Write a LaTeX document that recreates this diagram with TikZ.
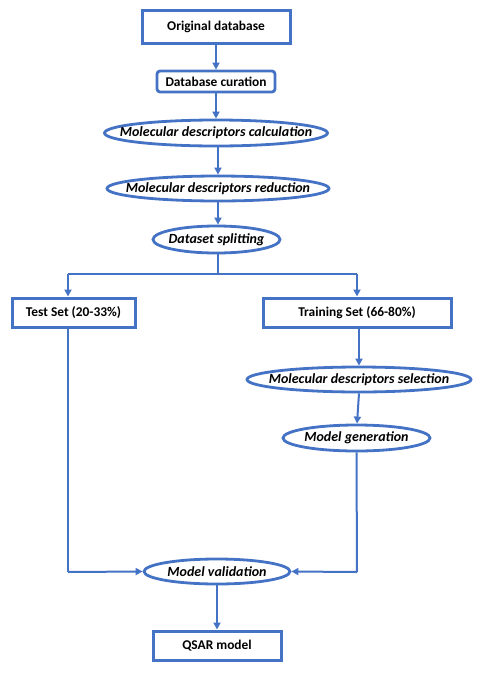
\documentclass[tikz,border=0pt]{standalone}
\usepackage{fontspec}
\setmainfont{Carlito}
\usetikzlibrary{shapes.geometric,arrows.meta}
\definecolor{oblue}{HTML}{4472C4}
\begin{document}
\begin{tikzpicture}[x=1pt,y=-1pt,
  every node/.style={font=\fontsize{13.4}{15}\selectfont\bfseries, text=black, inner sep=0pt},
  sqbox/.style={draw=oblue, line width=3pt, rectangle},
  rbox/.style={draw=oblue, line width=2.8pt, rectangle, rounded corners=3pt},
  ell/.style 2 args={draw=oblue, line width=2.8pt, ellipse, inner sep=0pt,
     label={[font=\fontsize{14}{15}\selectfont\bfseries\itshape, text=black]center:#1}},
  conn/.style={draw=oblue, line width=2pt, -{Triangle[length=7pt,width=7pt]}},
  plain/.style={draw=oblue, line width=2pt}
]
\useasboundingbox (0,0) rectangle (484,681);
\node[sqbox, minimum width=148pt, minimum height=33pt] (orig) at (216,26.5) {Original database};
\node[rbox, minimum width=118pt, minimum height=21pt] (cur) at (216,81.5) {Database curation};
\node[ell={Molecular descriptors calculation}{}, minimum width=223pt, minimum height=26pt] (calc) at (216,133) {};
\node[ell={Molecular descriptors reduction}{}, minimum width=222pt, minimum height=25pt] (red) at (218,188.5) {};
\node[ell={Dataset splitting}{}, minimum width=127pt, minimum height=27pt] (split) at (216.5,239.5) {};
\node[sqbox, minimum width=123pt, minimum height=29pt] (test) at (73.5,312.5) {Test Set (20-33\%)};
\node[sqbox, minimum width=188pt, minimum height=29pt] (train) at (357,312.5) {Training Set (66-80\%)};
\node[ell={Molecular descriptors selection}{}, minimum width=224pt, minimum height=25pt] (sel) at (359,379.5) {};
\node[ell={Model generation}{}, minimum width=147pt, minimum height=26pt] (gen) at (356.5,438) {};
\node[ell={Model validation}{}, minimum width=146pt, minimum height=25pt] (val) at (217,571.5) {};
\node[sqbox, minimum width=128pt, minimum height=29pt] (qsar) at (217,645.5) {QSAR model};

\coordinate (br) at (218,274);
\coordinate (bl) at (68,274);
\coordinate (brr) at (357,274);
\coordinate (tl) at (68,572);
\coordinate (gr) at (357,572);

\draw[conn] (orig.south) -- (cur.north);
\draw[conn] (cur.south) -- (calc.north);
\draw[conn] ([xshift=2pt]calc.south) -- ([xshift=0pt]red.north);
\draw[conn] (red.south) -- ([xshift=1.5pt]split.north);
\draw[plain] ([xshift=1.5pt]split.south) -- (br);
\draw[plain] (bl) -- (brr);
\draw[conn] (bl) -- (bl |- test.north);
\draw[conn] (brr) -- (brr |- train.north);
\draw[conn] ([xshift=2pt]train.south) -- (sel.north);
\draw[conn] (sel.south) -- ([xshift=0.5pt]gen.north);
\draw[plain] (bl |- test.south) -- (tl);
\draw[conn] (tl) -- (val.west);
\draw[plain] (gen.south) -- (gr);
\draw[conn] (gr) -- (val.east);
\draw[conn] (val.south) -- (qsar.north);
\end{tikzpicture}
\end{document}
